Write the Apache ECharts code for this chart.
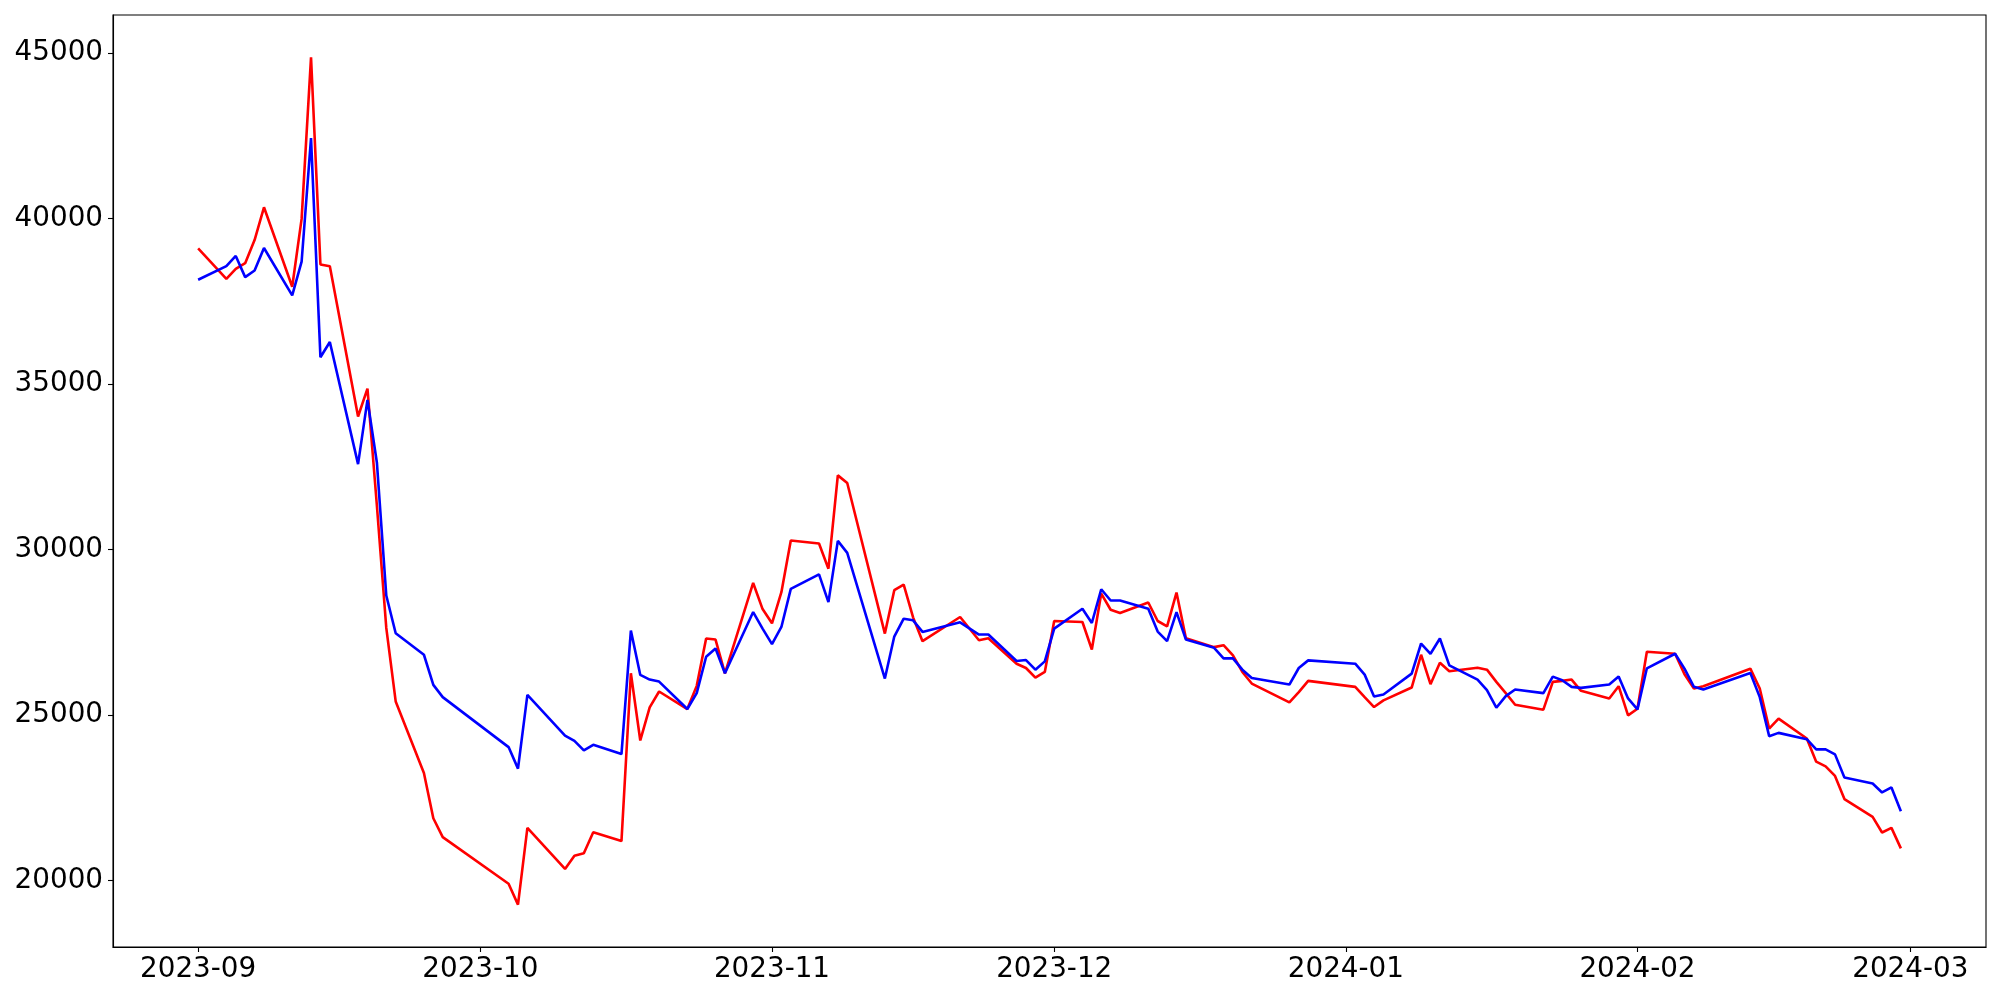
<!DOCTYPE html>
<html>
<head>
<meta charset="utf-8">
<title>line chart</title>
<script src="https://cdn.jsdelivr.net/npm/echarts@6.0.0/dist/echarts.min.js"></script>
<style>
  html, body { margin: 0; padding: 0; background: #fff; }
  #chart { width: 2000px; height: 1000px; }
</style>
</head>
<body>
<div id="chart"></div>
<script>
// trading days shown in the chart
const dates = [
  '2023-09-01', '2023-09-04', '2023-09-05', '2023-09-06', '2023-09-07', '2023-09-08', '2023-09-11', '2023-09-12',
  '2023-09-13', '2023-09-14', '2023-09-15', '2023-09-18', '2023-09-19', '2023-09-20', '2023-09-21', '2023-09-22',
  '2023-09-25', '2023-09-26', '2023-09-27',
  '2023-10-04', '2023-10-05', '2023-10-06', '2023-10-10', '2023-10-11', '2023-10-12', '2023-10-13', '2023-10-16',
  '2023-10-17', '2023-10-18', '2023-10-19', '2023-10-20', '2023-10-23', '2023-10-24', '2023-10-25', '2023-10-26',
  '2023-10-27', '2023-10-30', '2023-10-31',
  '2023-11-01', '2023-11-02', '2023-11-03', '2023-11-06', '2023-11-07', '2023-11-08', '2023-11-09', '2023-11-13',
  '2023-11-14', '2023-11-15', '2023-11-16', '2023-11-17', '2023-11-21', '2023-11-23', '2023-11-24', '2023-11-27',
  '2023-11-28', '2023-11-29', '2023-11-30',
  '2023-12-01', '2023-12-04', '2023-12-05', '2023-12-06', '2023-12-07', '2023-12-08', '2023-12-11', '2023-12-12',
  '2023-12-13', '2023-12-14', '2023-12-15', '2023-12-18', '2023-12-19', '2023-12-20', '2023-12-21', '2023-12-22',
  '2023-12-26', '2023-12-27', '2023-12-28',
  '2024-01-02', '2024-01-03', '2024-01-04', '2024-01-05', '2024-01-08', '2024-01-09', '2024-01-10', '2024-01-11',
  '2024-01-12', '2024-01-15', '2024-01-16', '2024-01-17', '2024-01-18', '2024-01-19', '2024-01-22', '2024-01-23',
  '2024-01-24', '2024-01-25', '2024-01-26', '2024-01-29', '2024-01-30', '2024-01-31',
  '2024-02-01', '2024-02-02', '2024-02-05', '2024-02-06', '2024-02-07', '2024-02-08', '2024-02-13', '2024-02-14',
  '2024-02-15', '2024-02-16', '2024-02-19', '2024-02-20', '2024-02-21', '2024-02-22', '2024-02-23', '2024-02-26',
  '2024-02-27', '2024-02-28', '2024-02-29'
];

const redValues = [
  39100, 38180, 38480, 38650, 39350, 40340, 37940, 39990, 44870, 38610, 38560, 34020, 34860, 31330, 27630, 25410,
  23250, 21880, 21310,
  19900, 19270, 21590, 20350, 20750, 20820, 21460, 21190, 26260, 24230, 25230, 25710, 25180, 25880, 27310, 27280,
  26260, 28990, 28200,
  27770, 28710, 30270, 30180, 29420, 32240, 32010, 27460, 28770, 28940, 27950, 27230, 27960, 27260, 27320, 26550,
  26420, 26130, 26300,
  27840, 27810, 26980, 28670, 28180, 28080, 28400, 27840, 27680, 28700, 27320, 27050, 27110, 26800, 26300, 25950,
  25380, 25690, 26030,
  25850, 25540, 25240, 25440, 25830, 26820, 25930, 26580, 26320, 26430, 26370, 26000, 25660, 25310, 25160, 26000,
  26030, 26070, 25730, 25500, 25870, 24990,
  25190, 26910, 26850, 26230, 25800, 25870, 26400, 25800, 24590, 24890, 24290, 23590, 23450, 23160, 22460, 21920,
  21450, 21590, 20970
];

const blueValues = [
  38150, 38560, 38870, 38230, 38430, 39110, 37680, 38700, 42430, 35810, 36270, 32580, 34520, 32630, 28610, 27470,
  26820, 25910, 25540,
  24030, 23380, 25610, 24380, 24220, 23930, 24100, 23820, 27550, 26210, 26070, 26010, 25180, 25660, 26760, 27010,
  26260, 28110, 27610,
  27140, 27660, 28810, 29250, 28410, 30260, 29900, 26100, 27370, 27910, 27860, 27510, 27800, 27430, 27430, 26630,
  26660, 26370, 26620,
  27610, 28210, 27780, 28800, 28460, 28460, 28210, 27520, 27230, 28110, 27280, 27030, 26710, 26710, 26370, 26120,
  25920, 26420, 26650,
  26550, 26220, 25560, 25620, 26250, 27160, 26850, 27310, 26500, 26070, 25750, 25220, 25570, 25770, 25660, 26160,
  26050, 25850, 25820, 25920, 26160, 25500,
  25170, 26410, 26850, 26400, 25850, 25770, 26270, 25540, 24360, 24460, 24270, 23960, 23960, 23810, 23110, 22930,
  22660, 22810, 22090
];

const xTickLabels = ['2023-09', '2023-10', '2023-11', '2023-12', '2024-01', '2024-02', '2024-03'];
const yTickValues = [20000, 25000, 30000, 35000, 40000, 45000];

// local-time parse so data, ticks and bounds agree
function toTime(s) {
  const p = s.split('-').map(Number);
  return new Date(p[0], p[1] - 1, p[2] || 1).getTime();
}

const times = dates.map(toTime);
const xTicks = xTickLabels.map(toTime);
// 5% padding on each side like the original plot
const span = times[times.length - 1] - times[0];
const xMin = times[0] - span * 0.05;
const xMax = times[times.length - 1] + span * 0.05;

const allVals = redValues.concat(blueValues);
const vMin = Math.min.apply(null, allVals);
const vMax = Math.max.apply(null, allVals);
const yMin = vMin - (vMax - vMin) * 0.05;
const yMax = vMax + (vMax - vMin) * 0.05;

const font = 'DejaVu Sans';
const black = '#000';

const chart = echarts.init(document.getElementById('chart'));
const option = {
  animation: false,
  backgroundColor: '#fff',
  grid: {
    left: 113,
    right: 14,
    top: 15,
    bottom: 53,
    show: true,
    borderColor: black,
    borderWidth: 1.1,
    containLabel: false,
    outerBoundsMode: 'none'
  },
  xAxis: {
    type: 'value',
    min: xMin,
    max: xMax,
    axisLine: { show: true, lineStyle: { color: black, width: 1.1 } },
    axisTick: {
      show: true,
      length: 5,
      customValues: xTicks,
      lineStyle: { color: black, width: 1.1 }
    },
    axisLabel: {
      customValues: xTicks,
      margin: 9,
      color: black,
      fontFamily: font,
      fontSize: 27.8,
      formatter: function (v) {
        const i = xTicks.indexOf(v);
        return i >= 0 ? xTickLabels[i] : '';
      }
    },
    splitLine: { show: false }
  },
  yAxis: {
    type: 'value',
    min: yMin,
    max: yMax,
    axisLine: { show: true, lineStyle: { color: black, width: 1.1 } },
    axisTick: {
      show: true,
      length: 5,
      customValues: yTickValues,
      lineStyle: { color: black, width: 1.1 }
    },
    axisLabel: {
      customValues: yTickValues,
      margin: 10,
      color: black,
      fontFamily: font,
      fontSize: 27.8,
      formatter: function (v) { return String(v); }
    },
    splitLine: { show: false }
  },
  series: [
    {
      name: 'red',
      type: 'line',
      showSymbol: false,
      symbol: 'none',
      lineStyle: { color: '#ff0000', width: 2.6 },
      itemStyle: { color: '#ff0000' },
      data: times.map((t, i) => [t, redValues[i]])
    },
    {
      name: 'blue',
      type: 'line',
      showSymbol: false,
      symbol: 'none',
      lineStyle: { color: '#0000ff', width: 2.6 },
      itemStyle: { color: '#0000ff' },
      data: times.map((t, i) => [t, blueValues[i]])
    }
  ]
};
chart.setOption(option);
</script>
</body>
</html>
